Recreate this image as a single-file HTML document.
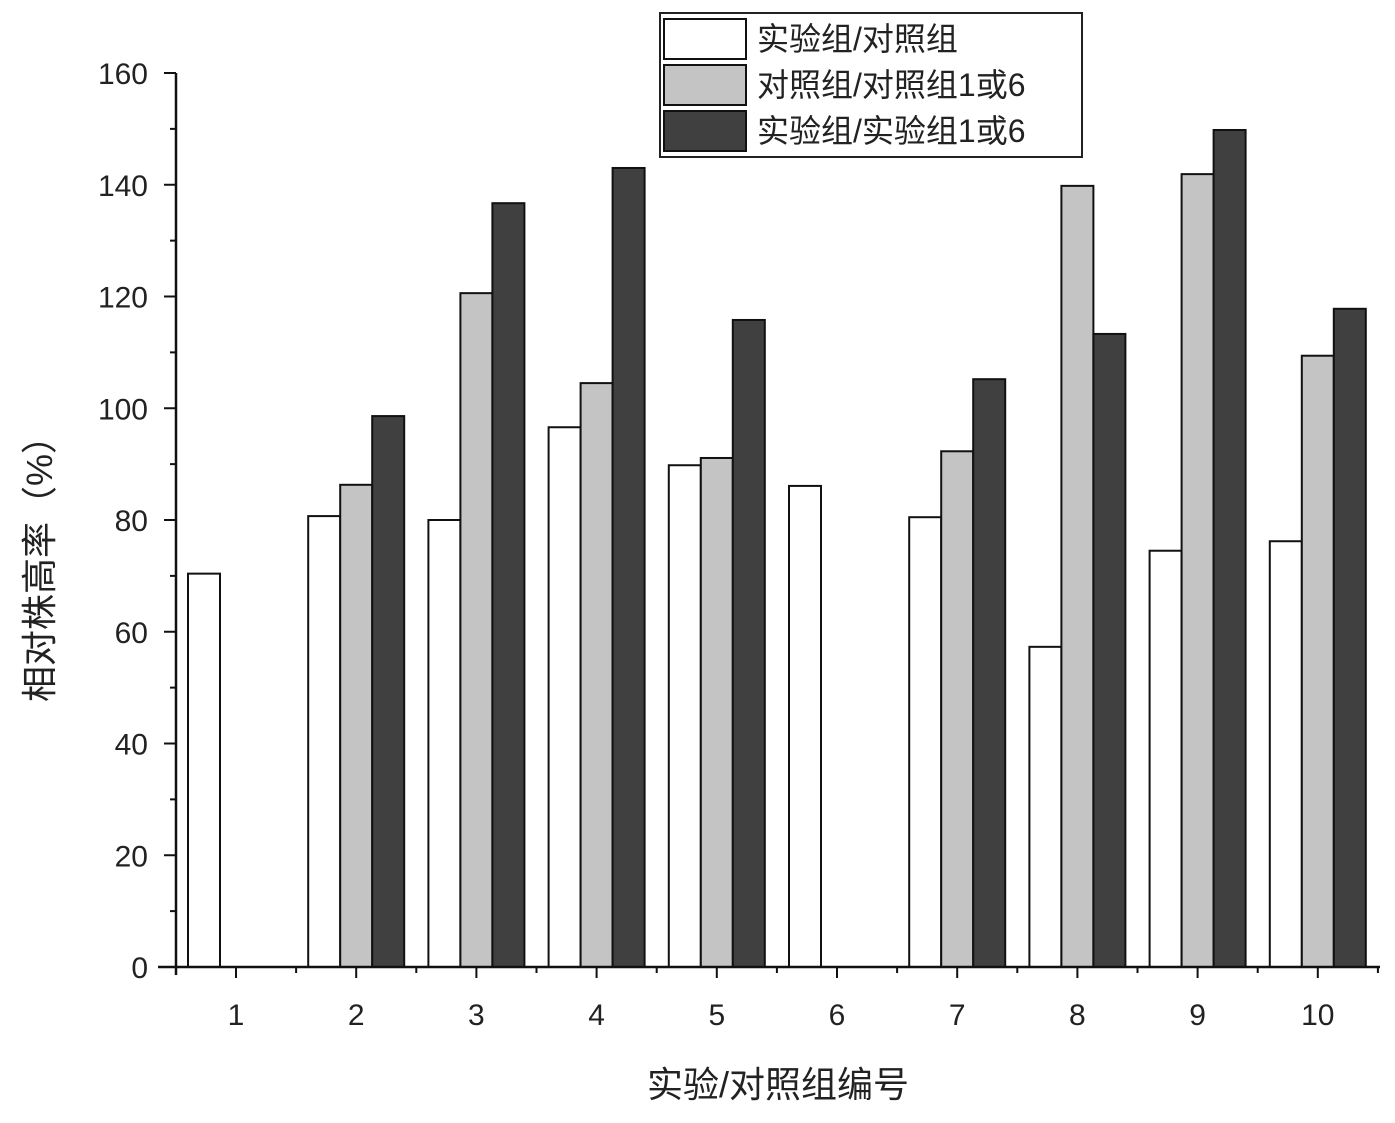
<!DOCTYPE html>
<html><head><meta charset="utf-8"><style>
body{margin:0;background:#fff}
svg text{font-family:"Liberation Sans","Noto Sans CJK SC",sans-serif;fill:#222}
</style></head><body>
<svg width="1395" height="1118" viewBox="0 0 1395 1118" xmlns="http://www.w3.org/2000/svg">
<g id="bars"></g>
<g id="axes"></g>
<text transform="translate(52,560) rotate(-90)" text-anchor="middle" font-size="36">相对株高率（%）</text>
<text x="778" y="1097" text-anchor="middle" font-size="36">实验/对照组编号</text>
<g>
<rect x="660" y="13" width="422" height="144" fill="#fff" stroke="#222" stroke-width="2"/>
<rect x="664" y="19" width="82" height="40" fill="#fff" stroke="#111" stroke-width="2"/>
<text x="757" y="50" font-size="32">实验组/对照组</text>
<rect x="664" y="65" width="82" height="40" fill="#c4c4c4" stroke="#111" stroke-width="2"/>
<text x="757" y="96" font-size="32">对照组/对照组1或6</text>
<rect x="664" y="111" width="82" height="40" fill="#404040" stroke="#111" stroke-width="2"/>
<text x="757" y="142" font-size="32">实验组/实验组1或6</text>
</g>
</svg>
<script>
const categories=["1","2","3","4","5","6","7","8","9","10"];
const ratioExpCtrl=[70.4,80.7,80,96.6,89.8,86.1,80.5,57.3,74.5,76.2];
const ratioCtrlCtrl=[null,86.3,120.6,104.5,91.1,null,92.3,139.8,141.9,109.4];
const ratioExpExp=[null,98.6,136.7,143,115.8,null,105.2,113.3,149.8,117.8];
const yTicks=[0,20,40,60,80,100,120,140,160];
const NS="http://www.w3.org/2000/svg";
const x0=176,x1=1380,y0=967,yTop=73;
const yScale=v=>y0-(v/160)*(y0-yTop);
const step=120.2,first=236;
const xScale=i=>first+i*step;
const bw=32;
function mk(tag,attrs,parent){const e=document.createElementNS(NS,tag);for(const k in attrs)e.setAttribute(k,attrs[k]);parent.appendChild(e);return e;}
const bars=document.getElementById('bars'),axes=document.getElementById('axes');
const series=[[ratioExpCtrl,'#fff',-1,'white'],[ratioCtrlCtrl,'#c4c4c4',0,'gray'],[ratioExpExp,'#404040',1,'dark']];
series.forEach(([vals,fill,off,nm])=>{
 vals.forEach((v,i)=>{
  if(v==null)return;
  const cx=xScale(i)+off*bw;
  const r=mk('rect',{x:cx-bw/2,y:yScale(v),width:bw,height:y0-yScale(v),fill:fill,stroke:'#111','stroke-width':2},bars);
  
  
 });
});
const ya=mk('line',{x1:x0,y1:y0+8,x2:x0,y2:yTop,stroke:'#111','stroke-width':2.5},axes);


const xa=mk('line',{x1:158,y1:y0,x2:x1,y2:y0,stroke:'#111','stroke-width':2.5},axes);


yTicks.forEach((t,i)=>{
 const y=yScale(t);
 mk('line',{x1:x0-12,y1:y,x2:x0,y2:y,stroke:'#111','stroke-width':2},axes);
 if(i<yTicks.length-1){const ym=yScale(t+10);mk('line',{x1:x0-6,y1:ym,x2:x0,y2:ym,stroke:'#111','stroke-width':2},axes);}
 const tx=mk('text',{x:148,y:y+11,'text-anchor':'end','font-size':30},axes);
 tx.textContent=t;
 
 
});
categories.forEach((c,i)=>{
 const x=xScale(i);
 mk('line',{x1:x,y1:y0,x2:x,y2:y0+11,stroke:'#111','stroke-width':2},axes);
 mk('line',{x1:x+step/2,y1:y0,x2:x+step/2,y2:y0+6,stroke:'#111','stroke-width':2},axes);
 const tx=mk('text',{x:x,y:y0+58,'text-anchor':'middle','font-size':30},axes);
 tx.textContent=c;
 
 
});
</script>
</body></html>
